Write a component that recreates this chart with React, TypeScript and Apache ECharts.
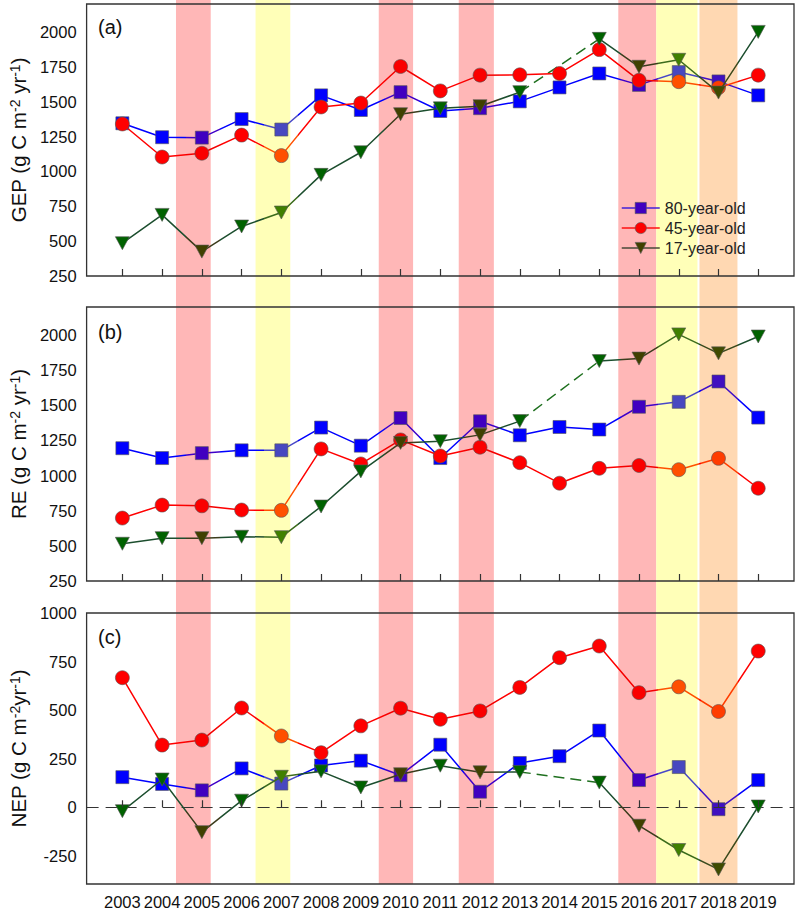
import React, { useEffect, useRef } from 'react';
import * as echarts from 'echarts';

// ---------- data ----------
const years = [2003, 2004, 2005, 2006, 2007, 2008, 2009, 2010, 2011, 2012, 2013, 2014, 2015, 2016, 2017, 2018, 2019];
const ageNames = ['80-year-old', '45-year-old', '17-year-old'];

const gep80 = [1345, 1245, 1242, 1375, 1300, 1545, 1440, 1568, 1433, 1453, 1502, 1602, 1702, 1620, 1712, 1645, 1545];
const gep45 = [1340, 1103, 1130, 1260, 1113, 1462, 1490, 1752, 1577, 1690, 1692, 1702, 1873, 1653, 1643, 1600, 1690];
const gep17 = [485, 688, 425, 605, 705, 975, 1137, 1410, 1452, 1467, 1568, null, 1950, 1750, 1800, 1565, 2000];

const re80 = [1195, 1125, 1160, 1180, 1180, 1342, 1213, 1410, 1125, 1387, 1287, 1346, 1328, 1490, 1525, 1670, 1413];
const re45 = [698, 790, 785, 755, 753, 1190, 1083, 1254, 1140, 1202, 1092, 946, 1052, 1072, 1042, 1123, 910];
const re17 = [515, 555, 555, 565, 562, 780, 1030, 1233, 1245, 1290, 1388, null, 1815, 1833, 2005, 1870, 1990];

const nep80 = [155, 120, 87, 200, 122, 215, 240, 165, 322, 80, 228, 263, 395, 140, 207, -10, 140];
const nep45 = [667, 320, 346, 511, 367, 281, 419, 510, 453, 496, 617, 770, 830, 590, 620, 493, 804];
const nep17 = [-20, 143, -128, 34, 157, 185, 102, 170, 214, 180, 182, null, 127, -95, -220, -320, 4];

const gepRETicks = [250, 500, 750, 1000, 1250, 1500, 1750, 2000];
const nepTicks = [-250, 0, 250, 500, 750, 1000];

// shaded years (x ranges on the year axis) and their kind
const bandFrom = [2004.6, 2006.57, 2009.62, 2011.6, 2015.55, 2016.49, 2017.56];
const bandTo = [2005.46, 2007.43, 2010.47, 2012.47, 2016.49, 2017.51, 2018.5];
const bandKind = ['P', 'Y', 'P', 'P', 'P', 'Y', 'O'];

const panelLabels = ['(a)', '(b)', '(c)'];

// ---------- styles ----------
const FONT = "'Liberation Sans', Arial, Helvetica, sans-serif";
const bandColor: Record<string, string> = { P: '#ffb7b7', Y: '#ffffb8', O: '#ffd8b2' };
const lineColors: Record<string, string>[] = [
  { base: '#0000ff', P: '#4000c8', Y: '#4848c8', O: '#4010c8' },
  { base: '#ff0000', P: '#f40000', Y: '#ff5000', O: '#ff3c00' },
  { base: '#1c4e2e', P: '#3c3c1c', Y: '#3c6c1c', O: '#3c4a1c' },
];
const symColors: Record<string, string>[] = [
  { base: '#0000ff', P: '#4000c0', Y: '#4848c0', O: '#4010c0' },
  { base: '#ff0000', P: '#fa0000', Y: '#ff5000', O: '#ff3c00' },
  { base: '#006200', P: '#404000', Y: '#408000', O: '#404c00' },
];
const symbols = ['rect', 'circle', 'triangle'];
const symbolSizes: any[] = [13, 14, [14, 13]];
const symbolRotates = [0, 0, 180];

function kindOf(year: number): string {
  for (let i = 0; i < bandFrom.length; i++) {
    if (year >= bandFrom[i] && year < bandTo[i]) return bandKind[i];
  }
  return 'base';
}

const grids = [
  { left: 75, right: 3, top: 4, height: 272 },
  { left: 75, right: 3, top: 307, height: 274 },
  { left: 75, right: 3, top: 613, height: 271 },
];
const yRanges = [
  { min: 250, max: 2200, ticks: gepRETicks },
  { min: 250, max: 2200, ticks: gepRETicks },
  { min: -395, max: 1000, ticks: nepTicks },
];
const panelData = [
  [gep80, gep45, gep17],
  [re80, re45, re17],
  [nep80, nep45, nep17],
];
const yNames = [
  '{t|GEP (g C m}{s|-2}{t| yr}{s|-1}{t|)}',
  '{t|RE (g C m}{s|-2}{t| yr}{s|-1}{t|)}',
  '{t|NEP (g C m}{s|-2}{t|yr}{s|-1}{t|)}',
];
const labelCenters = [28, 333, 638];

const X_MIN = 2002.1;
const X_MAX = 2019.9;

export default function App() {
  const ref = useRef<HTMLDivElement>(null);

  useEffect(() => {
    if (!ref.current) return;
    const chart = echarts.init(ref.current, undefined, { renderer: 'svg' });

    const xAxes: any[] = grids.map((_, i) => ({
      type: 'value',
      gridIndex: i,
      min: X_MIN,
      max: X_MAX,
      z: 6,
      axisLine: { show: false },
      splitLine: { show: false },
      axisTick: {
        show: true,
        inside: true,
        length: 7,
        customValues: years,
        lineStyle: { color: '#333', width: 1.2 },
      },
      axisLabel: {
        show: i === 2,
        customValues: years,
        fontSize: 16.5,
        color: '#111',
        margin: 9,
        fontFamily: FONT,
        formatter: (v: number) => String(Math.round(v)),
      },
    }));
    xAxes.push({ type: 'value', gridIndex: 3, min: X_MIN, max: X_MAX, show: false });

    const yAxes: any[] = grids.map((_, i) => ({
      type: 'value',
      gridIndex: i,
      min: yRanges[i].min,
      max: yRanges[i].max,
      z: 6,
      axisLine: { show: false },
      axisTick: { show: false },
      splitLine: { show: false },
      axisLabel: {
        customValues: yRanges[i].ticks,
        fontSize: 16.5,
        color: '#111',
        margin: 10,
        fontFamily: FONT,
        formatter: (v: number) => String(v),
      },
      name: yNames[i],
      nameLocation: 'middle',
      nameRotate: 90,
      nameGap: 48,
      nameTextStyle: {
        rich: {
          t: { fontSize: 20.5, fontFamily: FONT, color: '#111', lineHeight: 21, verticalAlign: 'bottom' },
          s: { fontSize: 14, fontFamily: FONT, color: '#111', lineHeight: 21, verticalAlign: 'top' },
        },
      },
    }));
    yAxes.push({ type: 'value', gridIndex: 3, min: 0, max: 1, show: false });

    const series: any[] = [];
    panelData.forEach((arrs, p) => {
      arrs.forEach((vals, k) => {
        const s: any = {
          type: 'line',
          name: ageNames[k],
          xAxisIndex: p,
          yAxisIndex: p,
          z: 3 + k,
          symbol: symbols[k],
          symbolSize: symbolSizes[k],
          symbolRotate: symbolRotates[k],
          showAllSymbol: true,
          connectNulls: false,
          lineStyle: { width: 1.5 },
          itemStyle: { borderColor: '#555', borderWidth: 0.6 },
          data: years.map((y, i) => ({
            value: [y, vals[i] == null ? '-' : vals[i]],
            itemStyle: { color: symColors[k][kindOf(y)], borderColor: '#555', borderWidth: 0.6 },
          })),
        };
        if (p === 2 && k === 0) {
          s.markLine = {
            silent: true,
            symbol: ['none', 'none'],
            label: { show: false },
            lineStyle: { type: [12, 7], color: '#333', width: 1.2 },
            data: [{ yAxis: 0 }],
          };
        }
        series.push(s);
      });
    });
    // dashed bridging segments for the 17-year-old stand (missing 2014)
    panelData.forEach((arrs, p) => {
      const v = arrs[2];
      const i0 = years.indexOf(2013);
      const i1 = years.indexOf(2015);
      series.push({
        type: 'line',
        name: '17-year-old gap',
        xAxisIndex: p,
        yAxisIndex: p,
        z: 2,
        symbol: 'none',
        lineStyle: { width: 1.5, type: [11, 6], color: '#1f701f' },
        data: [[years[i0], v[i0]], [years[i1], v[i1]]],
      });
    });
    // shaded years
    series.push({
      type: 'line',
      name: 'bands',
      xAxisIndex: 3,
      yAxisIndex: 3,
      z: 0,
      symbol: 'none',
      lineStyle: { opacity: 0 },
      data: [[2003, 0.5]],
      markArea: {
        silent: true,
        label: { show: false },
        data: bandFrom.map((f, i) => [
          { xAxis: f, itemStyle: { color: bandColor[bandKind[i]], opacity: 1 } },
          { xAxis: bandTo[i] },
        ]),
      },
    });

    const visualMap = [0, 1, 2].map((k) => ({
      type: 'piecewise',
      show: false,
      dimension: 0,
      seriesIndex: [k, 3 + k, 6 + k],
      pieces: bandFrom.map((f, i) => ({ gte: f, lt: bandTo[i], color: lineColors[k][bandKind[i]] })),
      outOfRange: { color: lineColors[k].base },
    }));

    const option: any = {
      animation: false,
      backgroundColor: '#ffffff',
      textStyle: { fontFamily: FONT },
      grid: [
        ...grids.map((g) => ({ ...g, show: true, z: 5, borderColor: '#333', borderWidth: 1.3, backgroundColor: 'transparent' })),
        { left: 75, right: 3, top: 0, height: 884, show: false },
      ],
      xAxis: xAxes,
      yAxis: yAxes,
      visualMap,
      legend: {
        orient: 'vertical',
        left: 616,
        top: 195,
        itemWidth: 38,
        itemHeight: 14,
        itemGap: 4,
        textStyle: { fontSize: 16, color: '#222', fontFamily: FONT, lineHeight: 14 },
        data: [
          { name: ageNames[0], itemStyle: { color: '#4000c0', borderColor: '#555', borderWidth: 0.6 }, lineStyle: { color: '#4020d8', width: 1.5 } },
          { name: ageNames[1], itemStyle: { color: '#ff0000', borderColor: '#555', borderWidth: 0.6 }, lineStyle: { color: '#ff1010', width: 1.5 } },
          { name: ageNames[2], itemStyle: { color: '#404000', borderColor: '#555', borderWidth: 0.6 }, lineStyle: { color: '#484838', width: 1.5 } },
        ],
      },
      graphic: panelLabels.map((t, i) => ({
        type: 'text',
        left: 98,
        top: labelCenters[i] - 11,
        z: 10,
        style: { text: t, fontSize: 20, fontFamily: FONT, fill: '#111' },
      })),
      series,
    };

    chart.setOption(option);
    return () => chart.dispose();
  }, []);

  return <div ref={ref} style={{ width: 797, height: 911, position: 'absolute', left: 0, top: 0 }} />;
}
